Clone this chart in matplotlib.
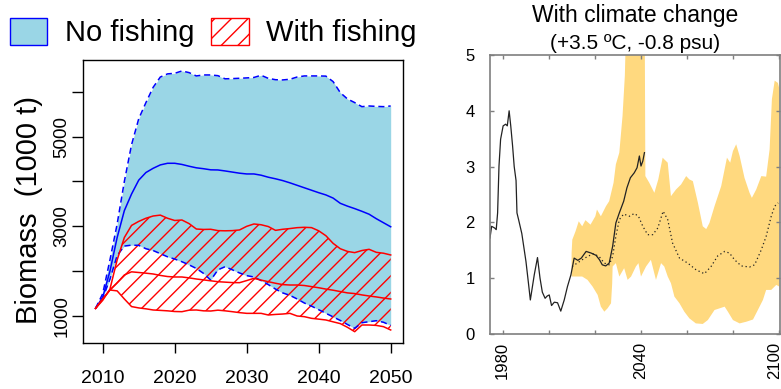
import numpy as np
import matplotlib
matplotlib.use("Agg")
import matplotlib.pyplot as plt
import matplotlib.transforms as mtransforms
from matplotlib.patches import Patch
from matplotlib.ticker import FixedLocator

plt.rcParams['font.family'] = ['Liberation Sans', 'DejaVu Sans']
plt.rcParams['hatch.linewidth'] = 1.0

#-------biomass projections (1000 t), yearly 2009-2050-------
years = np.arange(2009, 2051)

nofish_up = [1170, 1500, 2250, 3050, 4000, 4820, 5400, 5760, 6100, 6330,
             6400, 6413, 6465, 6428, 6354, 6376, 6376, 6360, 6290, 6295,
             6302, 6310, 6320, 6369, 6300, 6270, 6265, 6280, 6330, 6354,
             6354, 6354, 6350, 6228, 5982, 5840, 5760, 5669, 5684, 5675,
             5669, 5684]
nofish_med = [1170, 1420, 2000, 2750, 3350, 3720, 4030, 4200, 4294, 4370,
              4406, 4406, 4380, 4340, 4305, 4285, 4260, 4257, 4235, 4210,
              4185, 4168, 4168, 4140, 4095, 4060, 4020, 3970, 3915, 3860,
              3805, 3750, 3700, 3630, 3513, 3450, 3395, 3335, 3270, 3170,
              3080, 2990]
nofish_lo = [1170, 1400, 1820, 2350, 2560, 2580, 2575, 2500, 2460, 2390,
             2320, 2270, 2210, 2140, 2060, 1950, 1800, 2030, 2100, 2030,
             1960, 1900, 1870, 1790, 1700, 1600, 1515, 1460, 1380, 1290,
             1220, 1140, 1060, 980, 900, 810, 725, 850, 873, 895,
             860, 790]

fish_up = [1170, 1350, 1600, 2250, 2750, 3020, 3110, 3180, 3230, 3250,
           3180, 3130, 3141, 3060, 2940, 2930, 2934, 2904, 2900, 2904,
           2919, 3000, 3052, 3035, 2995, 2910, 2934, 2950, 2970, 2978,
           2971, 2900, 2790, 2620, 2500, 2440, 2413, 2460, 2487, 2420,
           2400, 2361]
fish_med = [1170, 1380, 1580, 1740, 1915, 1985, 1970, 1955, 1937, 1905,
            1880, 1870, 1870, 1850, 1825, 1805, 1785, 1765, 1755, 1745,
            1743, 1790, 1840, 1800, 1765, 1730, 1700, 1691, 1691, 1680,
            1655, 1630, 1600, 1575, 1545, 1515, 1500, 1470, 1446, 1425,
            1400, 1379]
fish_lo = [1170, 1380, 1580, 1560, 1380, 1210, 1180, 1160, 1134, 1125,
           1115, 1100, 1096, 1130, 1134, 1115, 1111, 1130, 1115, 1096,
           1075, 1059, 1059, 1059, 1022, 1035, 1044, 1059, 1000, 985,
           948, 930, 911, 870, 830, 747, 650, 799, 799, 790,
           762, 688]

#-------climate change scenario-------
obs_years = [1974.5, 1975.2, 1976.5, 1977.2, 1977.8, 1978.4, 1979.1, 1980.2,
             1981.3, 1982.0, 1982.8, 1983.5, 1984.3, 1985.0, 1985.8, 1986.2,
             1986.9, 1988.3, 1990.1, 1991.1, 1992.0, 1993.7, 1995.1, 1996.2,
             1997.2, 1998.4, 1999.3, 2000.2, 2001.2, 2002.4, 2003.8, 2005.2,
             2006.7, 2008.1, 2009.6, 2011.0, 2012.6, 2014.1, 2016.2, 2018.4,
             2020.5, 2022.0, 2023.2, 2024.7, 2026.2, 2027.7, 2029.1, 2030.6,
             2032.5, 2033.9, 2035.4, 2037.1, 2038.3, 2039.3, 2040.0, 2040.8,
             2041.5]
obs_vals = [1.72, 1.93, 1.90, 1.87, 2.17, 3.01, 3.49, 3.73,
            3.76, 3.73, 4.00, 3.73, 3.37, 3.00, 2.75, 2.17,
            2.05, 1.80, 1.30, 0.94, 0.61, 1.06, 1.37, 1.00,
            0.75, 0.64, 0.68, 0.70, 0.51, 0.57, 0.56, 0.41,
            0.61, 0.85, 1.06, 1.36, 1.32, 1.36, 1.48, 1.45,
            1.41, 1.33, 1.24, 1.22, 1.27, 1.57, 1.99, 2.17,
            2.38, 2.62, 2.80, 2.89, 2.98, 3.19, 3.01, 3.10,
            3.25]

med_years = [2010.1, 2012.3, 2014.5, 2016.8, 2019.6, 2022.0, 2024.1, 2026.2,
             2027.7, 2029.1, 2030.6, 2032.5, 2035.0, 2037.1, 2038.9, 2040.8,
             2042.9, 2045.1, 2047.3, 2049.6, 2051.6, 2053.7, 2056.7, 2060.3,
             2063.9, 2067.5, 2070.4, 2073.3, 2076.3, 2078.4, 2080.6, 2083.5,
             2087.1, 2089.3, 2092.2, 2094.3, 2096.5, 2098.0, 2099.5]
med_vals = [1.21, 1.27, 1.33, 1.39, 1.44, 1.38, 1.27, 1.24,
            1.39, 1.75, 2.05, 2.15, 2.11, 2.16, 2.11, 1.93,
            1.78, 1.78, 1.90, 2.20, 2.05, 1.63, 1.36, 1.27,
            1.15, 1.08, 1.21, 1.40, 1.48, 1.45, 1.33, 1.22,
            1.20, 1.24, 1.51, 1.75, 2.11, 2.29, 2.35]

band_up_years = [2009.9, 2010.2, 2011.6, 2013.0, 2014.5, 2015.9, 2018.1, 2020.2,
                 2020.9, 2022.6, 2024.8, 2026.2, 2028.1, 2029.1, 2030.6, 2032.0,
                 2033.0, 2033.6, 2036.0, 2039.0, 2041.6, 2041.9, 2043.6, 2045.8,
                 2047.5, 2049.4, 2050.1, 2051.6, 2053.0, 2055.2, 2057.4, 2059.6,
                 2061.0, 2062.5, 2064.7, 2066.8, 2068.3, 2069.7, 2071.9, 2074.8,
                 2077.3, 2078.7, 2079.9, 2081.3, 2082.8, 2084.9, 2087.1, 2088.1,
                 2090.0, 2092.2, 2094.3, 2095.8, 2096.8, 2098.0, 2099.4, 2100.0]
band_up = [1.45, 1.69, 1.84, 2.02, 1.93, 2.04, 1.96, 2.11,
           2.23, 2.11, 2.29, 2.38, 2.71, 3.04, 3.25, 3.91,
           4.63, 5.60, 6.50, 6.80, 5.80, 2.83, 2.71, 2.53,
           2.77, 3.16, 3.13, 3.07, 2.47, 2.59, 2.68, 2.83,
           2.77, 2.74, 2.35, 1.93, 1.88, 1.99, 2.29, 2.65,
           3.16, 3.07, 3.28, 3.40, 3.19, 2.80, 2.53, 2.44,
           2.59, 2.83, 2.82, 3.31, 4.21, 4.54, 4.50, 4.40]

band_lo_years = [2009.9, 2012.3, 2014.5, 2016.8, 2019.0, 2021.2, 2022.6, 2024.1,
                 2025.5, 2027.0, 2027.5, 2027.7, 2029.1, 2030.6, 2032.7, 2034.2,
                 2035.7, 2037.8, 2038.9, 2040.0, 2042.2, 2044.3, 2046.5, 2048.7,
                 2050.1, 2051.6, 2053.0, 2054.5, 2056.7, 2058.8, 2061.0, 2063.8,
                 2066.8, 2069.0, 2071.9, 2074.1, 2076.3, 2077.7, 2079.9, 2082.8,
                 2085.7, 2088.6, 2090.7, 2092.9, 2094.3, 2096.5, 2098.7, 2100.0]
band_lo = [1.03, 1.03, 1.03, 0.97, 0.85, 0.70, 0.49, 0.40,
           0.46, 0.55, 0.90, 1.21, 1.27, 1.03, 1.18, 0.97,
           1.03, 1.21, 1.27, 1.03, 1.21, 1.33, 0.97, 1.27,
           1.21, 1.03, 0.91, 0.67, 0.55, 0.40, 0.28, 0.19,
           0.18, 0.25, 0.43, 0.46, 0.49, 0.40, 0.25, 0.19,
           0.22, 0.26, 0.43, 0.61, 0.79, 0.79, 0.88, 0.85]

cyan = '#9ad6e6'
gold = '#ffd97f'

fig = plt.figure(figsize=(7.81, 3.89), dpi=100)

#-------left: biomass with/without fishing-------
ax = fig.add_axes([0.1063, 0.1183, 0.4097, 0.7275])
ax.fill_between(years, nofish_lo, nofish_up, color=cyan, linewidth=0)
ax.fill_between(years, fish_lo, fish_up, facecolor='none', edgecolor='red',
                hatch='//', linewidth=0)
ax.plot(years, nofish_up, color='blue', lw=1.1, dashes=(4, 2.5))
ax.plot(years, nofish_lo, color='blue', lw=1.1, dashes=(4, 2.5))
ax.plot(years, nofish_med, color='blue', lw=1.1)
for y in (fish_up, fish_med, fish_lo):
    ax.plot(years, y, color='red', lw=1.1)

ax.set_xlim(2007.26, 2051.71)
ax.set_ylim(398, 6710)
ax.set_xticks([2010, 2020, 2030, 2040, 2050])
ax.set_yticks([1000, 2000, 3000, 4000, 5000, 6000])
ax.set_yticklabels(['1000', '', '3000', '', '5000', ''], rotation=90,
                   va='center')
ax.tick_params(axis='x', direction='out', length=7.5, width=1, pad=12,
               labelsize=14)
ax.tick_params(axis='y', direction='out', length=8, width=1, pad=1,
               labelsize=13.5)
for s in ax.spines.values():
    s.set_linewidth(1)
ax.set_ylabel('Biomass  (1000 t)', fontsize=21)
ax.yaxis.set_label_coords(-0.126, 0.47)

h1 = Patch(facecolor=cyan, edgecolor='blue', linewidth=1)
h2 = Patch(facecolor='white', edgecolor='red', hatch='//', linewidth=1)
fig.legend([h1, h2], ['No fishing', 'With fishing'], loc='upper left',
           bbox_to_anchor=(10 / 781, 1 - 18 / 389), ncol=2, frameon=False,
           fontsize=21, handlelength=1.28, handleheight=1.03,
           handletextpad=0.59, columnspacing=0.59, borderpad=0,
           borderaxespad=0)

#-------right: with climate change-------
ax2 = fig.add_axes([0.6274, 0.1414, 0.3713, 0.7172])
poly_x = np.concatenate([band_up_years, band_lo_years[::-1]])
poly_y = np.concatenate([band_up, band_lo[::-1]])
ax2.fill(poly_x, poly_y, color=gold, linewidth=0)
ax2.plot(med_years, med_vals, color='#222222', lw=0.9, linestyle=(0, (1, 2.2)))
ax2.plot(obs_years, obs_vals, color='#222222', lw=0.9)

ax2.set_xlim(1974.5, 2100.3)
ax2.set_ylim(0, 5)
ax2.xaxis.set_major_locator(FixedLocator([1980, 2000, 2020, 2040, 2060, 2080, 2100]))
ax2.set_xticklabels(['1980', '', '', '2040', '', '', '2100'], rotation=90)
ax2.set_yticks([0, 1, 2, 3, 4, 5])
ax2.tick_params(direction='in', length=3, width=1, color='#7f7f7f',
                top=True, right=True, labelsize=12)
ax2.tick_params(axis='x', pad=6)
ax2.tick_params(axis='y', pad=11)
for s in ax2.spines.values():
    s.set_color('#7f7f7f')
    s.set_linewidth(1.2)
# keep the last year label inside the figure edge
last = ax2.get_xticklabels()[-1]
last.set_transform(last.get_transform() +
                   mtransforms.ScaledTranslation(-5 / 100, 0, fig.dpi_scale_trans))
ax2.text(0.5, 1.1416, 'With climate change', transform=ax2.transAxes,
         ha='center', va='center', fontsize=16.5)
ax2.text(0.5, 1.043, '(+3.5 \u00baC, -0.8 psu)', transform=ax2.transAxes,
         ha='center', va='center', fontsize=15)

fig.savefig('out.png', dpi=100)
